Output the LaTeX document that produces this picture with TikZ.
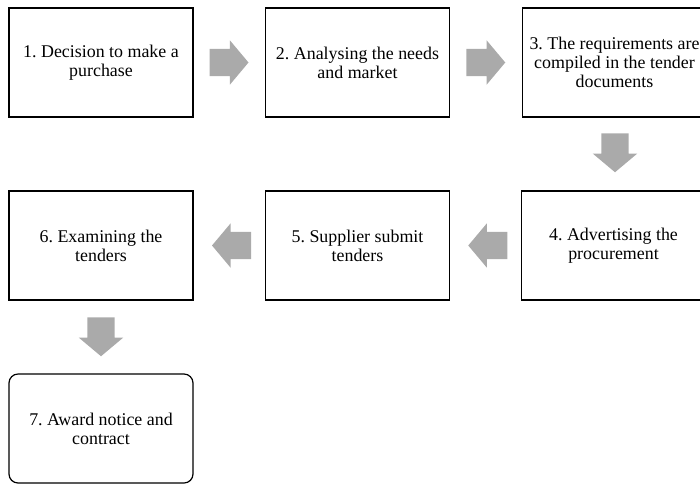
\documentclass[tikz,border=0pt]{standalone}
\usepackage{fontspec}
\setmainfont{Liberation Serif}
\usetikzlibrary{shapes.arrows,calc}
\definecolor{arrowgray}{RGB}{170,170,170}
\frenchspacing

\begin{document}
\begin{tikzpicture}[x=1pt, y=-1pt,
  stepbox/.style={rectangle, draw, line width=1.2pt, minimum width=184pt, minimum height=109pt, align=center, font=\fontsize{17.9}{19}\selectfont, inner sep=2pt},
  endbox/.style={stepbox, rounded corners=9pt},
  flow/.style={single arrow, fill=arrowgray, draw=none, minimum height=39pt, minimum width=44pt, single arrow head extend=8.5pt, single arrow tip angle=100, inner sep=0pt, inner ysep=13.5pt}
]
  \useasboundingbox (0,0) rectangle (700,483);
  \clip (0,0) rectangle (700,483);
  % process steps
  \node[stepbox] (decide) at (101,62.5) {1. Decision to make a\\purchase};
  \node[stepbox] (analyse) at (357.5,62.5) {2. Analysing the needs\\and market};
  \node[stepbox] (compile) at (614.5,62.5) {3. The requirements are\\compiled in the tender\\documents};
  \node[stepbox] (advert) at (613.5,245.5) {4. Advertising the\\procurement};
  \node[stepbox] (submit) at (357.5,245.5) {5. Supplier submit\\tenders};
  \node[stepbox] (examine) at (101,245.5) {6. Examining the\\tenders};
  \node[endbox] (award) at (101,428.5) {7. Award notice and\\contract};
  % block arrows
  \node[flow] (a12) at ($(decide.east)!0.5!(analyse.west)+(-6,0)$) {};
  \node[flow] (a23) at ($(analyse.east)!0.5!(compile.west)+(-6,0)$) {};
  \node[flow, rotate=-90] (a34) at ($(compile.south)!0.5!(advert.north)+(1,-7)$) {};
  \node[flow, rotate=180] (a45) at ($(advert.west)!0.5!(submit.east)+(8,0)$) {};
  \node[flow, rotate=180] (a56) at ($(submit.west)!0.5!(examine.east)+(8,0)$) {};
  \node[flow, rotate=-90] (a67) at ($(examine.south)!0.5!(award.north)+(0,-6)$) {};
\end{tikzpicture}
\end{document}
